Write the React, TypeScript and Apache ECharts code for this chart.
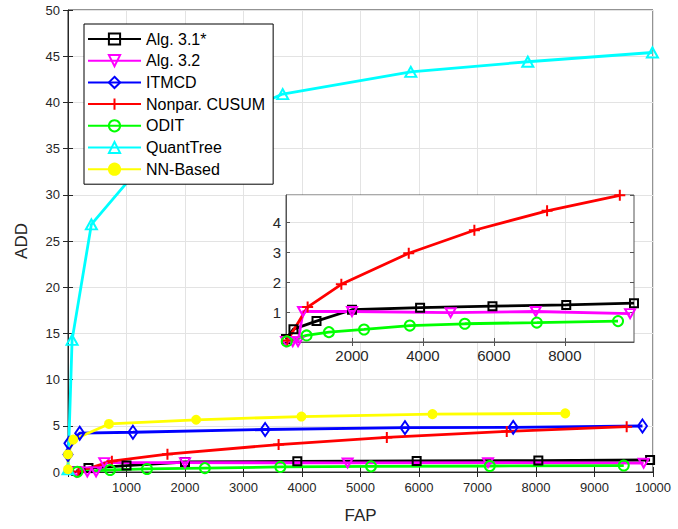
import React, { useEffect, useRef } from 'react';
import * as echarts from 'echarts';

const seriesNames = ['Alg. 3.1*', 'Alg. 3.2', 'ITMCD', 'Nonpar. CUSUM', 'ODIT', 'QuantTree', 'NN-Based'];
const seriesColors = ['#000000', '#ff00ff', '#0000ff', '#ff0000', '#00ff00', '#00ffff', '#ffff00'];

// [FAP, ADD]
const alg31: number[][] = [[140, 0.1], [350, 0.43], [1000, 0.7], [2000, 1.08], [3920, 1.15], [5960, 1.2], [8040, 1.24], [9950, 1.3]];
const alg32: number[][] = [[140, 0.02], [330, 0.01], [480, 0.01], [620, 1.02], [2000, 1.02], [4780, 0.98], [7180, 1.02], [9840, 0.95]];
const itmcd: number[][] = [[0, 1.9], [15, 3.1], [200, 4.2], [1110, 4.3], [3370, 4.6], [5760, 4.8], [7610, 4.83], [9820, 4.98]];
const cusum: number[][] = [[180, 0.05], [750, 1.17], [1700, 1.93], [3600, 2.97], [5450, 3.74], [7500, 4.39], [9550, 4.91]];
const odit: number[][] = [[160, 0.02], [720, 0.22], [1350, 0.33], [2340, 0.42], [3630, 0.55], [5180, 0.61], [7210, 0.65], [9500, 0.7]];
const quantTree: number[][] = [[0, 0.3], [70, 14.3], [400, 26.8], [1500, 35.0], [3670, 40.9], [5860, 43.3], [7860, 44.4], [9990, 45.4]];
const nnBased: number[][] = [[0, 0.3], [0, 1.9], [90, 3.5], [700, 5.2], [2190, 5.65], [3990, 6.0], [6230, 6.26], [8500, 6.34]];

const insetXTicks = [2000, 4000, 6000, 8000];
const insetYTicks = [1, 2, 3, 4];

const FONT = 'Liberation Sans, Arial, Helvetica, sans-serif';

const symbols: any[] = [
  { symbol: 'rect', size: 8 },
  { symbol: 'path://M0,0 L10,0 L5,9 Z', size: [10, 9] },
  { symbol: 'diamond', size: [9, 13] },
  { symbol: 'path://M5,0 L5,10 M0,5 L10,5', size: 11 },
  { symbol: 'circle', size: 10 },
  { symbol: 'triangle', size: [11, 10] },
  { symbol: 'circle', size: 8 },
];

function makeSeries(i: number, data: number[][], inset: boolean) {
  const c = seriesColors[i];
  const filled = i === 6;
  return {
    name: seriesNames[i],
    type: 'line',
    data,
    xAxisIndex: inset ? 1 : 0,
    yAxisIndex: inset ? 1 : 0,
    symbol: symbols[i].symbol,
    symbolSize: symbols[i].size,
    showAllSymbol: true,
    clip: false,
    z: inset ? 7 : 2,
    color: c,
    lineStyle: { color: c, width: 2.8 },
    itemStyle: { color: filled ? c : 'rgba(0,0,0,0)', borderColor: c, borderWidth: 2 },
    emphasis: { disabled: true },
  };
}

const intLabel = (v: number) => (v !== 0 && insetYTicks.indexOf(v) >= 0 ? String(v) : '');

export default function App() {
  const ref = useRef<HTMLDivElement>(null);
  useEffect(() => {
    if (!ref.current) return;
    const chart = echarts.init(ref.current, undefined, { renderer: 'svg' });
    const axisCol = '#262626';
    const gridCol = '#e3e3e3';
    const option: any = {
      animation: false,
      textStyle: { fontFamily: FONT },
      legend: {
        data: seriesNames,
        orient: 'vertical',
        left: 84,
        top: 24,
        itemWidth: 53,
        itemHeight: 14,
        itemGap: 5.7,
        padding: [7, 8, 7, 3],
        backgroundColor: '#ffffff',
        borderColor: '#000000',
        borderWidth: 1,
        borderRadius: 0,
        z: 10,
        textStyle: { fontSize: 16, color: '#000', fontFamily: FONT, lineHeight: 16 },
        selectedMode: false,
      },
      grid: [
        { left: 68, top: 10, right: 25, bottom: 56, show: true, borderColor: axisCol, borderWidth: 1, backgroundColor: '#ffffff' },
        { left: 286, top: 195, width: 348, height: 147, show: true, borderColor: '#555', borderWidth: 1, backgroundColor: '#ffffff', z: 5 },
      ],
      xAxis: [
        {
          type: 'value', gridIndex: 0, min: 0, max: 10000, interval: 1000,
          name: 'FAP', nameLocation: 'middle', nameGap: 35,
          nameTextStyle: { fontSize: 17, color: axisCol, fontFamily: FONT },
          axisLine: { show: true, lineStyle: { color: axisCol } },
          axisTick: { inside: true, length: 5, lineStyle: { color: axisCol } },
          axisLabel: { fontSize: 13, color: axisCol, margin: 9, formatter: (v: number) => (v === 0 ? '' : String(v)) },
          splitLine: { show: true, lineStyle: { color: gridCol } },
        },
        {
          type: 'value', gridIndex: 1, min: 140, max: 9950, z: 6,
          axisLine: { show: true, lineStyle: { color: '#555' } },
          axisTick: { inside: true, length: 4, customValues: insetXTicks, lineStyle: { color: '#555' } },
          axisLabel: { fontSize: 15, color: axisCol, margin: 6, customValues: insetXTicks, formatter: (v: number) => String(v) },
          splitLine: { show: true, lineStyle: { color: gridCol } },
        },
        {
          type: 'value', gridIndex: 0, position: 'top', min: 0, max: 10000, interval: 1000,
          axisLine: { show: false },
          axisTick: { inside: true, length: 5, lineStyle: { color: axisCol } },
          axisLabel: { show: false },
          splitLine: { show: false },
        },
        {
          type: 'value', gridIndex: 1, position: 'top', min: 140, max: 9950, z: 6,
          axisLine: { show: false },
          axisTick: { inside: true, length: 4, customValues: insetXTicks, lineStyle: { color: '#555' } },
          axisLabel: { show: false, customValues: insetXTicks },
          splitLine: { show: false },
        },
      ],
      yAxis: [
        {
          type: 'value', gridIndex: 0, min: 0, max: 50, interval: 5,
          name: 'ADD', nameLocation: 'middle', nameGap: 38,
          nameTextStyle: { fontSize: 17, color: axisCol, fontFamily: FONT },
          axisLine: { show: true, lineStyle: { color: axisCol } },
          axisTick: { inside: true, length: 5, lineStyle: { color: axisCol } },
          axisLabel: { fontSize: 13, color: axisCol, margin: 8 },
          splitLine: { show: true, lineStyle: { color: gridCol } },
        },
        {
          type: 'value', gridIndex: 1, min: 0, max: 4.92, interval: 1, z: 6,
          axisLine: { show: true, lineStyle: { color: '#555' } },
          axisTick: { inside: true, length: 4, lineStyle: { color: '#555' } },
          axisLabel: { fontSize: 15, color: axisCol, margin: 5, showMaxLabel: false, formatter: intLabel },
          splitLine: { show: true, lineStyle: { color: gridCol } },
        },
        {
          type: 'value', gridIndex: 0, position: 'right', min: 0, max: 50, interval: 5,
          axisLine: { show: false },
          axisTick: { inside: true, length: 5, lineStyle: { color: axisCol } },
          axisLabel: { show: false },
          splitLine: { show: false },
        },
        {
          type: 'value', gridIndex: 1, position: 'right', min: 0, max: 4.92, interval: 1, z: 6,
          axisLine: { show: false },
          axisTick: { inside: true, length: 4, lineStyle: { color: '#555' } },
          axisLabel: { show: false },
          splitLine: { show: false },
        },
      ],
      series: [
        makeSeries(0, alg31, false),
        makeSeries(1, alg32, false),
        makeSeries(2, itmcd, false),
        makeSeries(3, cusum, false),
        makeSeries(4, odit, false),
        makeSeries(5, quantTree, false),
        makeSeries(6, nnBased, false),
        makeSeries(0, alg31, true),
        makeSeries(1, alg32, true),
        makeSeries(3, cusum, true),
        makeSeries(4, odit, true),
      ],
    };
    chart.setOption(option);
    return () => chart.dispose();
  }, []);
  return <div ref={ref} style={{ position: 'fixed', left: 0, top: 0, width: 678, height: 529, background: '#fff' }} />;
}
